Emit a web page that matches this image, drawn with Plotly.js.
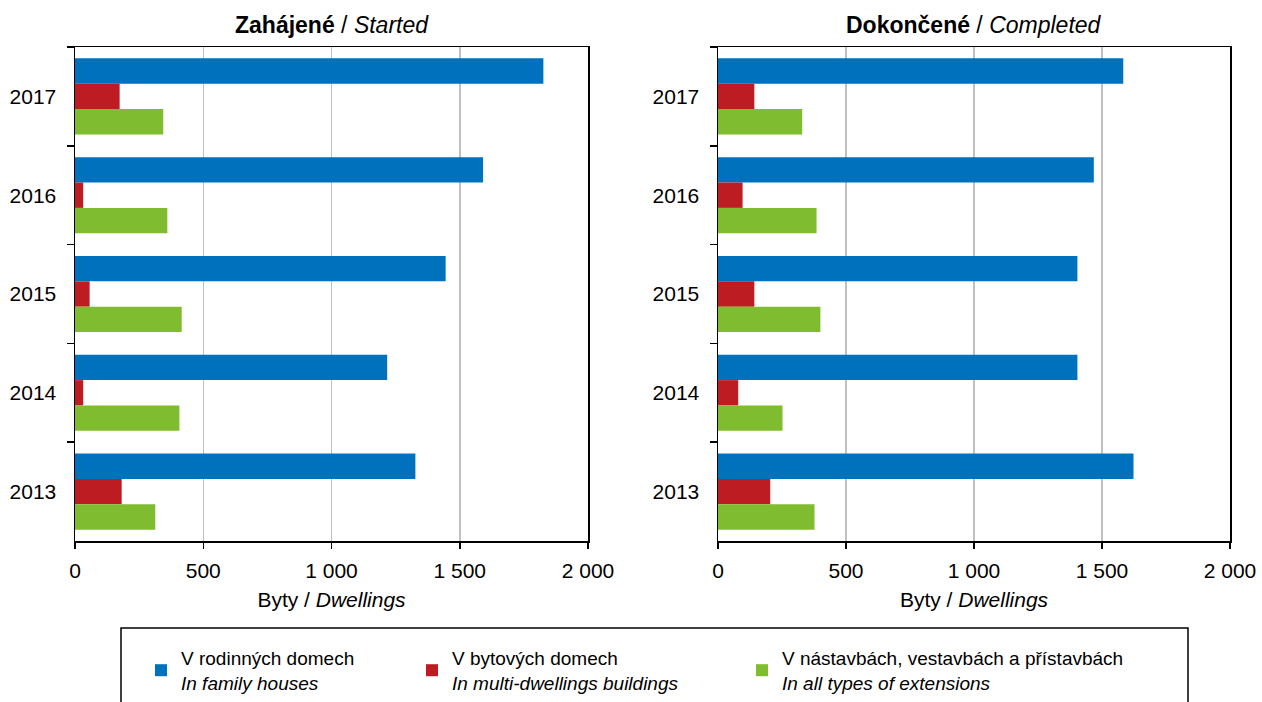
<!DOCTYPE html>
<html>
<head>
<meta charset="utf-8">
<script src="https://cdn.plot.ly/plotly-3.0.1.min.js"></script>
<style>html,body{margin:0;padding:0;background:#fff;}#chart{width:1262px;height:702px;}</style>
</head>
<body>
<div id="chart"></div>
<script>
// ---- data ----
const years = ['2017', '2016', '2015', '2014', '2013'];
const startedFamily = [1826, 1591, 1445, 1217, 1327];
const startedMulti = [174, 32, 57, 32, 182];
const startedExt = [344, 360, 416, 407, 313];
const completedFamily = [1583, 1468, 1404, 1404, 1623];
const completedMulti = [142, 96, 142, 79, 204];
const completedExt = [329, 385, 400, 252, 377];
const seriesNames = [
  'V rodinných domech<br><i>In family houses</i>',
  'V bytových domech<br><i>In multi-dwellings buildings</i>',
  'V nástavbách, vestavbách a přístavbách<br><i>In all types of extensions</i>'
];
const panelTitles = ['<b>Zahájené</b> / <i>Started</i>', '<b>Dokončené</b> / <i>Completed</i>'];
const xTitle = 'Byty / <i>Dwellings</i>';
const colors = ['#0071bc', '#be1c23', '#80bc2f'];

const FONT = '"Liberation Sans", Arial, Helvetica, sans-serif';
const W = 1262, H = 702;
const mL = 75, mR = 32, mT = 47, mB = 161;
const pw = W - mL - mR, ph = H - mT - mB;
const px2x = p => (p - mL) / pw;
const py2y = p => (H - mB - p) / ph;

const legendKeys = ['legend', 'legend2', 'legend3'];
const traces = [];
const panels = [
  [startedFamily, startedMulti, startedExt],
  [completedFamily, completedMulti, completedExt]
];
panels.forEach((vals, pi) => {
  vals.forEach((v, si) => {
    traces.push({
      type: 'bar', orientation: 'h',
      y: years, x: v,
      name: seriesNames[si],
      marker: {color: colors[si], line: {width: 0}},
      xaxis: pi === 0 ? 'x' : 'x2',
      yaxis: pi === 0 ? 'y' : 'y2',
      showlegend: pi === 0,
      legend: legendKeys[si],
      hoverinfo: 'x+y'
    });
  });
});

const xax = (domain) => ({
  domain: domain, range: [0, 2000], dtick: 500, tick0: 0,
  showgrid: true, gridcolor: '#c0c0c0', gridwidth: 1.5,
  zeroline: false, showline: true, linecolor: '#000', linewidth: 1.5, mirror: true,
  ticks: 'outside', ticklen: 6, tickcolor: '#000', tickwidth: 1.5,
  ticklabelstandoff: 4,
  separatethousands: true, automargin: false,
  tickfont: {family: FONT, size: 21, color: '#000'},
  title: {text: xTitle, font: {family: FONT, size: 21, color: '#000'}, standoff: 11}
});
const yax = (anchor) => ({
  type: 'category', autorange: 'reversed', anchor: anchor,
  showgrid: false, zeroline: false, showline: true, linecolor: '#000', linewidth: 1.5, mirror: true,
  ticks: 'outside', tickson: 'boundaries', ticklen: 7, tickcolor: '#000', tickwidth: 1.5,
  ticklabelstandoff: 13, automargin: false,
  tickfont: {family: FONT, size: 21, color: '#000'}
});

const d1 = [0, px2x(588)], d2 = [px2x(718), 1];
const legendX = [px2x(141), px2x(412), px2x(742)];
const legendBase = (x) => ({
  x: x, y: py2y(639), xanchor: 'left', yanchor: 'top', orientation: 'h',
  bgcolor: 'rgba(0,0,0,0)', borderwidth: 0,
  font: {family: FONT, size: 19, color: '#000'}
});

const layout = {
  width: W, height: H,
  margin: {l: mL, r: mR, t: mT, b: mB, autoexpand: false},
  paper_bgcolor: '#fff', plot_bgcolor: '#fff',
  separators: ', ',
  barmode: 'group', bargap: 0.23, bargroupgap: 0,
  font: {family: FONT, size: 21, color: '#000'},
  xaxis: xax(d1), yaxis: yax('x'),
  xaxis2: xax(d2), yaxis2: yax('x2'),
  legend: legendBase(legendX[0]),
  legend2: legendBase(legendX[1]),
  legend3: legendBase(legendX[2]),
  annotations: panelTitles.map((t, i) => ({
    text: t, xref: 'paper', yref: 'paper',
    x: i === 0 ? (d1[0] + d1[1]) / 2 : (d2[0] + d2[1]) / 2,
    y: py2y(25), xanchor: 'center', yanchor: 'middle', showarrow: false,
    font: {family: FONT, size: 23, color: '#000'}
  })),
  shapes: [{
    type: 'rect', xref: 'paper', yref: 'paper',
    x0: px2x(121), x1: px2x(1188), y0: py2y(628), y1: py2y(712),
    line: {color: '#000', width: 1.5}, fillcolor: 'rgba(0,0,0,0)'
  }]
};

Plotly.newPlot('chart', traces, layout, {displayModeBar: false, staticPlot: true});
</script>
</body>
</html>
